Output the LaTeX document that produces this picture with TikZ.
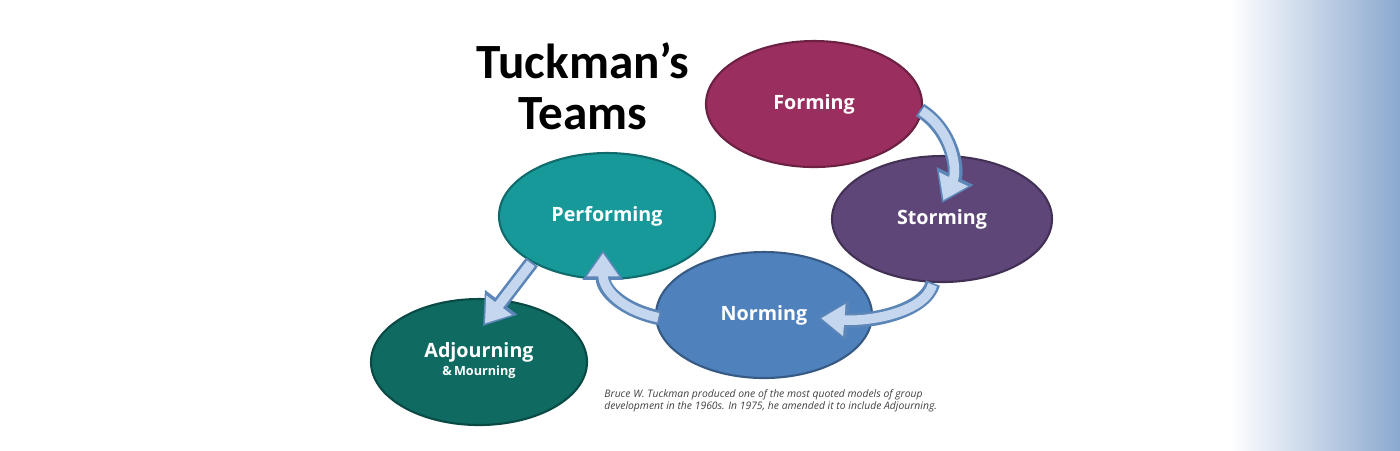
\documentclass[tikz,border=0pt]{standalone}
\usepackage{fontspec}
\setmainfont{Open Sans}
\newfontfamily\titlefont{Carlito}
\usetikzlibrary{shapes.geometric,arrows.meta}
\definecolor{cForm}{HTML}{9A2E5E}
\definecolor{cStorm}{HTML}{5F4679}
\definecolor{cNorm}{HTML}{4F81BD}
\definecolor{cPerf}{HTML}{17999A}
\definecolor{cAdj}{HTML}{0F6A62}
\definecolor{arrOut}{HTML}{5D86B8}
\definecolor{arrIn}{HTML}{C4D7EE}
\definecolor{bgBlue}{HTML}{8AA8CF}
\tikzset{
  stage/.style={ellipse, inner sep=0pt, minimum width=216\px, minimum height=126\px, draw=#1!70!black, line width=0.6pt, fill=#1, text=white, font=\bfseries\fontsize{5.6}{6}\selectfont},
  arrouter/.style={draw=arrOut, line width=4.2pt, -{Triangle[length=8.5pt,width=11pt]}},
  arrinner/.style={draw=arrIn, line width=2.7pt, -{Triangle[length=6.6pt,width=8.7pt]}, shorten >=0.9pt, shorten <=0.5pt}
}
\newlength{\px}\setlength{\px}{0.01cm}
\begin{document}
\begin{tikzpicture}[x=0.01cm,y=-0.01cm]
\useasboundingbox (0,0) rectangle (1400,450);
\shade[left color=white, right color=bgBlue] (1230,0) rectangle (1400,450);
\node[stage=cForm] (F) at (814,104) {Forming};
\node[stage=cStorm,minimum width=220\px] (S) at (942,219) {Storming};
\node[stage=cNorm] (N) at (764,315) {Norming};
\node[stage=cPerf] (P) at (607,216) {Performing};
\node[stage=cAdj] (A) at (479,362) {\begin{tabular}{c}Adjourning\\[-1pt]{\fontsize{3.6}{4}\selectfont \&\,Mourning}\end{tabular}};
\node[font=\titlefont\bfseries\fontsize{14}{14.5}\selectfont, align=center] (T) at (583,86) {Tuckman’s\\Teams};
\node[font=\itshape\fontsize{2.95}{3.5}\selectfont, align=left, text=black!75, anchor=west] (C) at (592,401) {Bruce W. Tuckman produced one of the most quoted models of group\\development in the 1960s. In 1975, he amended it to include Adjourning.};
\coordinate (a1s) at (920,110); \coordinate (a1e) at (942,203);
\coordinate (a2s) at (933,283); \coordinate (a2e) at (818,318);
\coordinate (a3s) at (660,318); \coordinate (a3e) at (603,250);
\coordinate (a4s) at (532,262); \coordinate (a4e) at (483,326);
\foreach \st in {arrouter,arrinner}{
  \draw[\st] (a1s) .. controls (952,130) and (958,170) .. (a1e);
  \draw[\st] (a2s) .. controls (925,312) and (870,322) .. (a2e);
  \draw[\st] (a3s) .. controls (622,310) and (603,290) .. (a3e);
  \draw[\st] (a4s) -- (a4e);
}
\end{tikzpicture}
\end{document}
